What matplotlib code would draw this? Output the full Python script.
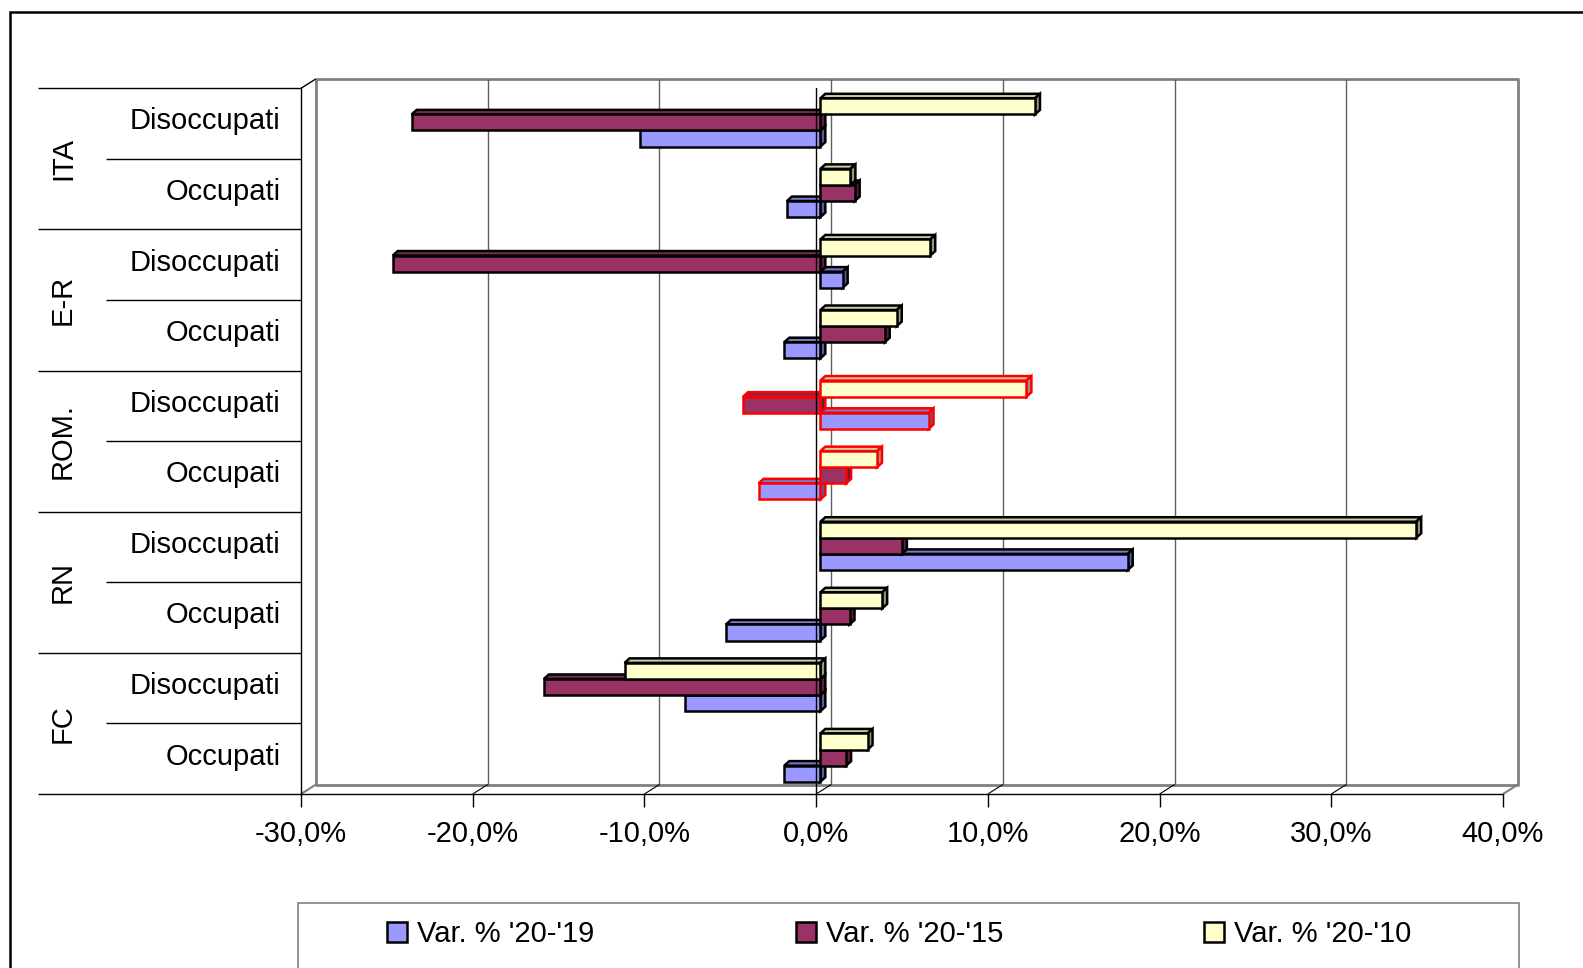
import matplotlib.pyplot as plt
import numpy as np
from matplotlib.patches import Rectangle, Polygon
from matplotlib.colors import to_rgb
from matplotlib.ticker import FuncFormatter

plt.rcParams['font.family'] = ['Liberation Sans', 'DejaVu Sans']

# rows from top to bottom: group x (Disoccupati, Occupati)
groups = ['ITA', 'E-R', 'ROM.', 'RN', 'FC']
subcats = ['Disoccupati', 'Occupati']
series_names = ["Var. % '20-'19", "Var. % '20-'15", "Var. % '20-'10"]

# values in %
var_20_19 = [-10.5, -1.95, 1.3, -2.1, 6.3, -3.6, 17.9, -5.5, -7.9, -2.1]
var_20_15 = [-23.8, 2.0, -24.9, 3.75, -4.5, 1.5, 4.75, 1.7, -16.1, 1.5]
var_20_10 = [12.5, 1.75, 6.4, 4.45, 12.0, 3.3, 34.7, 3.6, -11.4, 2.75]
highlight = 'ROM.'

colors = ['#9999FF', '#993366', '#FFFFCC']
series = [var_20_19, var_20_15, var_20_10]
n_rows = len(groups) * len(subcats)
FS = 21

W, H = 1583, 968
fig = plt.figure(figsize=(W / 100, H / 100), dpi=100)
ax = fig.add_axes([301 / W, 1 - 794 / H, 1202 / W, (794 - 88.3) / H])
ax.set_xlim(-30, 40)
ax.set_ylim(n_rows, 0)
ax.set_yticks([])
ax.set_xticks(np.arange(-30, 41, 10))
ax.xaxis.set_major_formatter(FuncFormatter(lambda v, p: f"{v:.1f}%".replace('.', ',')))
ax.tick_params(axis='x', length=9.4, width=1, direction='out', pad=9, labelsize=FS)
for s in ['top', 'right']:
    ax.spines[s].set_visible(False)
for s in ['left', 'bottom']:
    ax.spines[s].set_color('black')
    ax.spines[s].set_linewidth(1)


def px2data(dx, dy):
    # pixel offset (right, up) -> data offset
    x0, y0 = ax.transData.transform((0, 0))
    p = ax.transData.inverted().transform((x0 + dx, y0 + dy))
    return p[0], p[1]


def shade(c, f):
    return tuple(np.array(to_rgb(c)) * f)


# 3D walls
wx, wy = px2data(15, 9.5)
x0, x1 = ax.get_xlim()
gray = '#808080'
kw = dict(clip_on=False, solid_capstyle='butt')
ax.plot([x0 + wx, x1 + wx, x1 + wx, x0 + wx, x0 + wx],
        [wy, wy, n_rows + wy, n_rows + wy, wy], color=gray, lw=2, zorder=1, **kw)
ax.plot([x0, x0 + wx], [0, wy], color='black', lw=1, zorder=1, **kw)
ax.plot([x0, x0 + wx], [n_rows, n_rows + wy], color=gray, lw=1.5, zorder=1, **kw)
ax.plot([x1, x1 + wx], [n_rows, n_rows + wy], color=gray, lw=1.5, zorder=1, **kw)
for t in np.arange(-20, 31, 10):
    ax.plot([t + wx, t + wx], [wy, n_rows + wy], color='#606060', lw=1, zorder=1, **kw)
    ax.plot([t, t + wx], [n_rows, n_rows + wy], color='black', lw=0.8, zorder=1, **kw)

# bars
bfx, bfy = px2data(4.2, 2.7)
ddx, ddy = px2data(5, 4.5)
bar_h = 0.228
slot0 = 0.18
for k, vals in enumerate(series):
    slot = 2 - k
    fc = colors[k]
    for i, v in enumerate(vals):
        ec = 'red' if groups[i // 2] == highlight else 'black'
        yt = i + slot0 + slot * bar_h + bfy
        yb = yt + bar_h
        xl = min(0, v) + bfx
        xr = max(0, v) + bfx
        z = 3 + k
        pk = dict(ec=ec, lw=1.8, joinstyle='miter', zorder=z, clip_on=False)
        ax.add_patch(Polygon([(xl, yt), (xr, yt), (xr + ddx, yt + ddy), (xl + ddx, yt + ddy)],
                             closed=True, fc=shade(fc, 0.8), **pk))
        ax.add_patch(Polygon([(xr, yt), (xr + ddx, yt + ddy), (xr + ddx, yb + ddy), (xr, yb)],
                             closed=True, fc=shade(fc, 0.6), **pk))
        ax.add_patch(Rectangle((xl, yt), xr - xl, bar_h, fc=fc, **pk))

ax.axvline(0, color='black', lw=1, zorder=10)

# category axis labels and separators
yt_tr = ax.get_yaxis_transform()
for r in range(0, n_rows + 1, 2):
    ax.plot([-0.2185, 0], [r, r], color='black', lw=1, transform=yt_tr, **kw)
for r in range(1, n_rows, 2):
    ax.plot([-0.162, 0], [r, r], color='black', lw=1, transform=yt_tr, **kw)
for i in range(n_rows):
    ax.text(-0.0169, i + 0.47, subcats[i % 2], transform=yt_tr, ha='right',
            va='center', fontsize=FS)
for g, name in enumerate(groups):
    ax.text(-0.198, 2 * g + 1, name, transform=yt_tr, ha='center', va='center',
            rotation=90, fontsize=FS)

# legend
handles = [Rectangle((0, 0), 1, 1, fc=c, ec='black', lw=1.8) for c in colors]
fig.legend(handles, series_names, loc='center left', bbox_to_anchor=(387 / W, 1 - 934 / H),
           ncol=3, frameon=False, fontsize=FS, handlelength=0.69, handleheight=0.69,
           handletextpad=0.34, columnspacing=6.9, borderpad=0, borderaxespad=0)
fig.add_artist(Rectangle((298 / W, -0.05), (1519 - 298) / W, (1 - 903 / H) + 0.05,
                         transform=fig.transFigure, fill=False, ec=gray, lw=1.2))

# outer chart border
fig.add_artist(Rectangle((10 / W, -0.5), 2, (1 - 12 / H) + 0.5, transform=fig.transFigure,
                         fill=False, ec='black', lw=1.8))

fig.savefig('out.png', dpi=100)
